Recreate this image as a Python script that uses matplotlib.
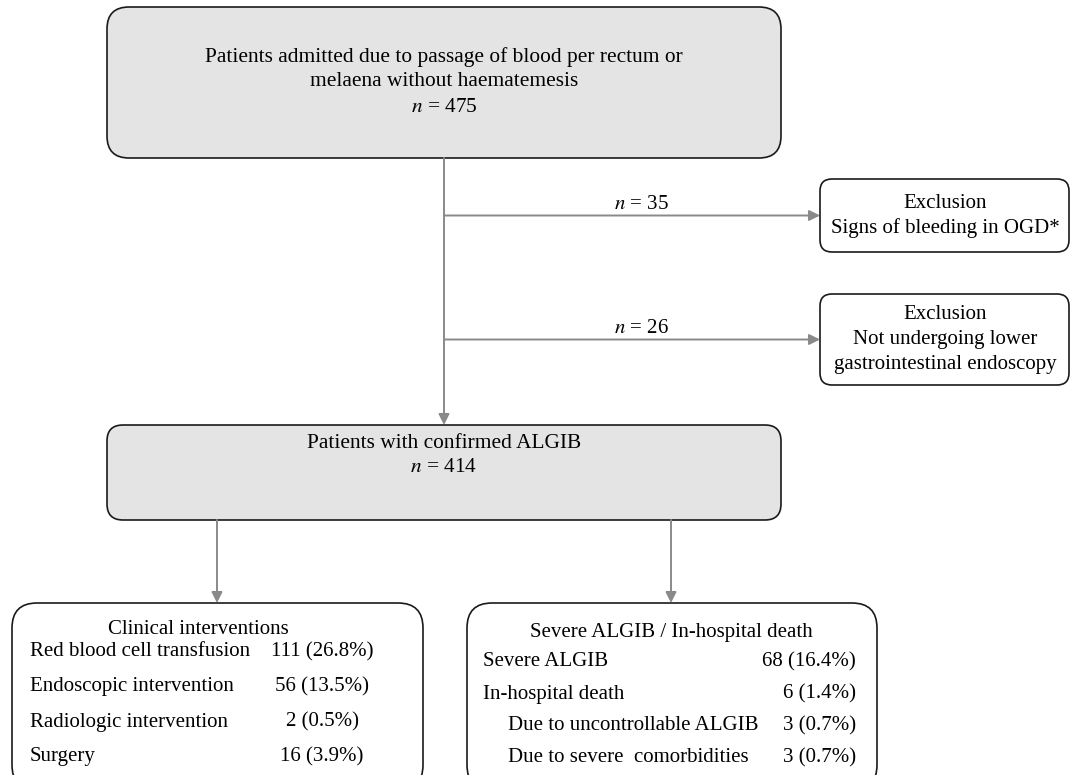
import matplotlib.pyplot as plt
from matplotlib.patches import FancyBboxPatch

# Texte und Zahlen des Flussdiagramms
top_lines = ["Patients admitted due to passage of blood per rectum or",
             "melaena without haematemesis"]
n_admitted = 475
excl_n = [35, 26]
excl_reasons = [["Exclusion", "Signs of bleeding in OGD*"],
                ["Exclusion", "Not undergoing lower", "gastrointestinal endoscopy"]]
confirmed_label = "Patients with confirmed ALGIB"
n_confirmed = 414

interv_title = "Clinical interventions"
interv_labels = ["Red blood cell transfusion", "Endoscopic intervention",
                 "Radiologic intervention", "Surgery"]
interv_counts = [111, 56, 2, 16]
interv_pct = [26.8, 13.5, 0.5, 3.9]

outcome_title = "Severe ALGIB / In-hospital death"
outcome_labels = ["Severe ALGIB", "In-hospital death",
                  "Due to uncontrollable ALGIB", "Due to severe  comorbidities"]
outcome_indent = [0, 0, 1, 1]
outcome_counts = [68, 6, 3, 3]
outcome_pct = [16.4, 1.4, 0.7, 0.7]

plt.rcParams['font.family'] = ['Liberation Serif', 'DejaVu Serif']
plt.rcParams['mathtext.fontset'] = 'stix'

fig = plt.figure(figsize=(10.71, 7.75), dpi=100)
ax = fig.add_axes([0, 0, 1, 1])
ax.set_xlim(0, 1071)
ax.set_ylim(775, 0)
ax.axis('off')

FS = 15
FS_TOP = 15.4
GREY = '#8a8a8a'


def box(x0, y0, x1, y1, r, fill):
    p = FancyBboxPatch((x0, y0), x1 - x0, y1 - y0,
                       boxstyle=f"round,pad=0,rounding_size={r}",
                       fc=fill, ec='#1a1a1a', lw=1.2, zorder=2)
    ax.add_patch(p)


def arrow(x0, y0, x1, y1):
    ax.annotate("", xy=(x1, y1), xytext=(x0, y0),
                arrowprops=dict(arrowstyle='-|>', color=GREY, lw=1.4,
                                mutation_scale=16, shrinkA=0, shrinkB=0),
                zorder=3)


def ntext(x, y, n, fs=FS, **kw):
    ax.text(x, y, r"$n$ = " + str(n), ha='center', va='center', fontsize=fs, **kw)


# Oberer Kasten
box(107, 7, 781, 158, 22, '#e4e4e4')
for i, line in enumerate(top_lines):
    ax.text(444, 57 + 25 * i, line, ha='center', va='center', fontsize=FS_TOP, zorder=4)
ntext(444, 108, n_admitted, fs=FS_TOP, zorder=4)

# Hauptlinie nach unten
arrow(444, 158, 444, 425)

# Ausschluesse
excl_boxes = [(179, 252), (294, 385)]
for (y0, y1), n, lines in zip(excl_boxes, excl_n, excl_reasons):
    yc = (y0 + y1) / 2
    arrow(444, yc, 820, yc)
    ntext(641, yc - 11, n)
    box(820, y0, 1069, y1, 12, 'white')
    h = 25
    for i, line in enumerate(lines):
        ax.text(945, yc + (i - (len(lines) - 1) / 2) * h, line,
                ha='center', va='center', fontsize=FS, zorder=4)

# Mittlerer Kasten
box(107, 425, 781, 520, 16, '#e4e4e4')
ax.text(444, 443, confirmed_label, ha='center', va='center', fontsize=FS_TOP, zorder=4)
ntext(444, 467, n_confirmed, fs=FS_TOP, zorder=4)

arrow(217, 520, 217, 603)
arrow(671, 520, 671, 603)

# Untere Kaesten
box(12, 603, 423, 790, 25, 'white')
box(467, 603, 877, 790, 25, 'white')

ax.text(198, 630, interv_title, ha='center', va='center', fontsize=FS, zorder=4)
for i, (lab, c, p) in enumerate(zip(interv_labels, interv_counts, interv_pct)):
    y = 652 + 35 * i
    ax.text(30, y, lab, ha='left', va='center', fontsize=FS, zorder=4)
    ax.text(322, y, f"{c} ({p:.1f}%)", ha='center', va='center', fontsize=FS, zorder=4)

ax.text(671, 632, outcome_title, ha='center', va='center', fontsize=FS, zorder=4)
for i, (lab, ind, c, p) in enumerate(zip(outcome_labels, outcome_indent,
                                         outcome_counts, outcome_pct)):
    y = 662 + 32 * i
    ax.text(483 + 25 * ind, y, lab, ha='left', va='center', fontsize=FS, zorder=4)
    ax.text(856, y, f"{c} ({p:.1f}%)", ha='right', va='center', fontsize=FS, zorder=4)

fig.savefig("out.png", dpi=100)
